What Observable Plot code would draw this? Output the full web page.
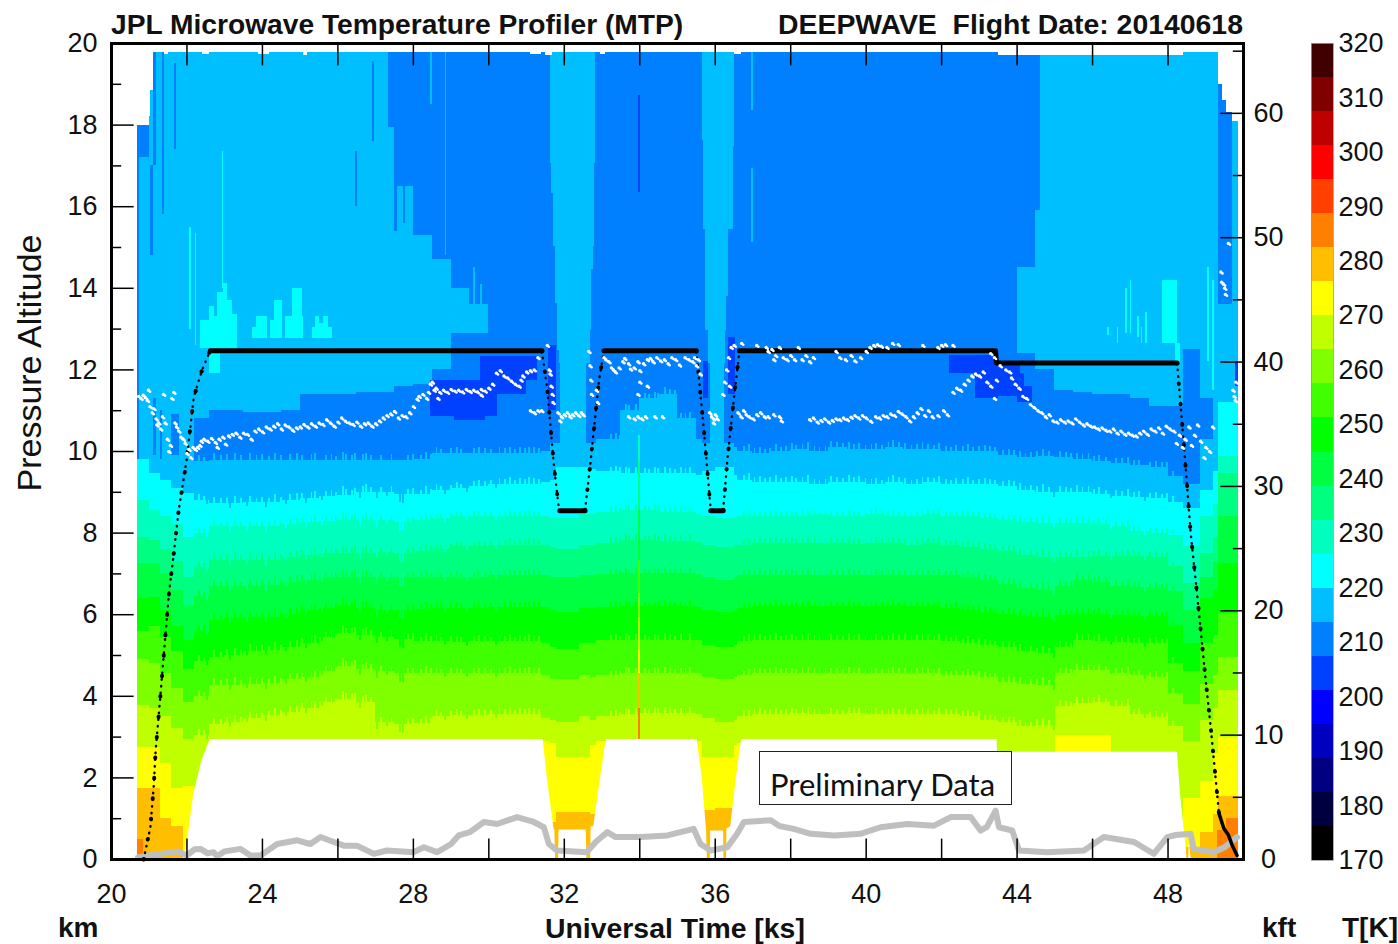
<!DOCTYPE html>
<html><head><meta charset="utf-8">
<script src="https://cdn.jsdelivr.net/npm/d3@7"></script>
<script src="https://cdn.jsdelivr.net/npm/@observablehq/plot@0.6"></script>
<style>
html,body{margin:0;padding:0;background:#fff;overflow:hidden}
#page{position:relative;width:1398px;height:944px;overflow:hidden;font-family:"Liberation Sans",Arial,sans-serif;color:#111}
#page svg{position:absolute;top:0;background:transparent}
.t{position:absolute;white-space:pre;line-height:1}
.b{font-weight:bold}
</style></head><body><div id="page"></div>
<script>
// colour bar: band limits (K) and band colours
const bandLimits=[176.25,182.5,188.75,195,201.25,207.5,213.75,220,226.25,232.5,238.75,245,251.25,257.5,263.75,270,276.25,282.5,288.75,295,301.25,307.5,313.75];
const bandColors=["#000000","#000040","#000080","#0000bf","#0000ff","#0040ff","#0080ff","#00bfff","#00ffff","#00ffbf","#00ff80","#00ff40","#00ff00","#40ff00","#80ff00","#bfff00","#ffff00","#ffbf00","#ff8000","#ff4000","#ff0000","#bf0000","#800000","#400000"];
const barBands=[170,176.25,182.5,188.75,195,201.25,207.5,213.75,220,226.25,232.5,238.75,245,251.25,257.5,263.75,270,276.25,282.5,288.75,295,301.25,307.5,313.75,320];
const barTicks=[170,180,190,200,210,220,230,240,250,260,270,280,290,300,310,320];
const kmTicks=[0,2,4,6,8,10,12,14,16,18,20];
const kmMinor=[1,3,5,7,9,11,13,15,17,19];
const ksTicks=[20,24,28,32,36,40,44,48];
const ksMarks=[22,24,26,28,30,32,34,36,38,40,42,44,46,48];
const kftTicks=[0,10,20,30,40,50,60];
const kftMinor=[5,15,25,35,45,55,65];

// time column edges (ks)
const tEdges=[20.7,21,21.3,21.6,21.9,22.2,22.6,23,23.5,24,
24.5,25,25.5,26,26.5,27,27.5,28,28.5,29,
29.5,30,30.5,31,31.4,31.63,31.8,32.4,32.7,32.85,
33.5,34,34.5,35,35.5,35.65,36,36.5,36.6,37,
37.5,38,38.5,39,39.5,40,40.5,41,41.5,42,
42.5,43,43.5,44,44.5,45,45.5,46,46.5,47,
47.5,48,48.42,48.86,49.2,49.35,49.7,49.87];
// top altitude (km) of each temperature layer in each column
const top279=[1.75,1.75,1,.8,0,0,0,0,0,0, 0,0,0,0,0,0,0,0,0,0, 0,0,0,0,0,.9,1.15,1.15,1.1,.8, 0,0,0,0,0,1.2,1.25,0,0,0, 0,0,0,0,0,0,0,0,0,0, 0,0,0,0,0,0,0,0,0,0, 0,0,.3,.65,1.1,1.55,1.55];
const top273=[2.75,2.75,2.35,1.75,1.8,0,0,0,0,0, 0,0,0,0,0,0,0,0,0,0, 0,0,0,0,2.9,2.85,2.5,2.5,2.8,2.9, 0,0,0,0,2.9,2.5,2.5,2.8,2.85,0, 0,0,0,0,0,0,0,0,0,0, 0,0,0,0,0,3.04,3.04,3.04,0,0, 0,0,1.5,1.9,2.6,3,3];
const top267=[3.78,3.7,3.5,3.2,2.95,3.05,3.3,3.35,3.45,3.53, 3.6,3.7,3.85,3.92,3.85,3.35,3.32,3.33,3.5,3.53, 3.53,3.55,3.55,3.55,3.45,3.4,3.35,3.5,3.4,3.5, 3.55,3.58,3.57,3.57,3.55,3.45,3.35,3.4,3.5,3.55, 3.55,3.57,3.55,3.55,3.57,3.55,3.55,3.55,3.55,3.55, 3.5,3.4,3.35,3.25,3.28,3.75,3.82,3.85,3.75,3.55, 3.49,3.25,2.9,3.4,3.7,4.14,4.14];
const top261=[4.9,4.8,4.55,4.2,3.85,4,4.27,4.27,4.3,4.31, 4.4,4.45,4.6,4.72,4.65,4.6,4.55,4.55,4.55,4.55, 4.55,4.55,4.55,4.55,4.5,4.4,4.4,4.5,4.45,4.5, 4.55,4.55,4.55,4.55,4.55,4.45,4.4,4.45,4.5,4.55, 4.55,4.55,4.55,4.55,4.55,4.55,4.55,4.55,4.55,4.5, 4.5,4.45,4.35,4.3,4.27,4.55,4.63,4.63,4.55,4.5, 4.47,4.06,3.8,4.3,4.5,4.96,4.96];
const top254=[5.6,5.7,5.45,5.1,4.65,4.85,4.96,5,5.1,5.13, 5.2,5.3,5.45,5.53,5.5,5.45,5.4,5.35,5.35,5.33, 5.35,5.35,5.35,5.35,5.3,5.2,5.15,5.3,5.3,5.37, 5.37,5.37,5.37,5.37,5.37,5.25,5.2,5.25,5.35,5.37, 5.37,5.37,5.37,5.37,5.37,5.37,5.37,5.37,5.37,5.35, 5.3,5.25,5.2,5.1,5.04,5.2,5.37,5.35,5.33,5.3, 5.29,4.8,4.6,5.3,5.5,6.03,6.03];
const top248=[6.4,6.43,6.1,5.7,5.37,5.6,5.86,5.9,5.92,5.94, 6,6.1,6.15,6.19,6.15,6.1,6.1,6.12,6.15,6.15, 6.15,6.17,6.17,6.17,6.17,6.1,6.05,6.15,6.15,6.18, 6.19,6.19,6.19,6.19,6.18,6.1,6.05,6.1,6.15,6.19, 6.19,6.19,6.19,6.19,6.19,6.19,6.19,6.19,6.19,6.15, 6.1,6.05,6,5.95,5.94,5.98,6,6,5.97,5.95, 5.95,5.74,5.3,6.4,6.6,7.25,7.25];
const top242=[7.25,7.25,7,6.6,6.19,6.45,6.68,6.68,6.7,6.72, 6.8,6.85,6.9,6.92,6.9,6.9,6.9,6.9,6.92,6.92, 6.92,6.95,6.95,6.95,6.95,6.9,6.9,6.95,6.95,6.98, 7,7,7,7,6.98,6.9,6.85,6.9,6.95,6.96, 6.96,6.96,6.95,6.96,6.95,6.96,6.95,6.95,6.96,6.95, 6.9,6.85,6.75,6.65,6.6,6.7,6.84,6.8,6.7,6.66, 6.64,6.56,6.1,6.9,7.3,8.4,8.4];
const top236=[7.9,7.82,7.6,7.3,6.92,7.15,7.33,7.33,7.33,7.33, 7.4,7.45,7.5,7.5,7.5,7.53,7.5,7.55,7.6,7.66, 7.66,7.7,7.7,7.7,7.7,7.65,7.6,7.7,7.7,7.75, 7.82,7.82,7.8,7.8,7.78,7.7,7.65,7.7,7.7,7.74, 7.74,7.74,7.75,7.75,7.72,7.74,7.74,7.7,7.74,7.7, 7.65,7.6,7.55,7.45,7.41,7.41,7.41,7.42,7.42,7.42, 7.41,7.17,6.76,7.5,7.9,9.46,9.46];
const top229=[8.8,8.56,8.4,8.2,7.9,8,8.15,8.15,8.15,8.15, 8.2,8.25,8.28,8.3,8.3,8.3,8.25,8.3,8.35,8.4, 8.4,8.4,8.4,8.4,8.4,8.35,8.35,8.45,8.45,8.5, 8.56,8.56,8.5,8.5,8.45,8.4,8.35,8.35,8.4,8.4, 8.4,8.4,8.45,8.4,8.4,8.45,8.4,8.4,8.45,8.4, 8.4,8.35,8.3,8.25,8.23,8.23,8.23,8.2,8.15,8.05, 8,7.95,7.66,8.4,8.7,9.87,9.87];
const top223=[9.8,9.46,9.3,9.1,8.97,8.8,8.72,8.72,8.74,8.76, 8.8,8.85,8.9,8.93,9,9,8.95,8.95,9.05,9.1, 9.15,9.2,9.2,9.2,9.25,9.3,9.6,9.6,9.55,9.5, 9.46,9.46,9.46,9.46,9.4,9.5,9.6,9.4,9.3,9.25, 9.25,9.25,9.2,9.25,9.25,9.2,9.25,9.2,9.25,9.2, 9.2,9.2,9.15,9.05,9,9,9,8.95,8.9,8.88, 8.85,8.76,8.6,9.05,9.5,11.2,11.2];
const top217=[10.5,10.5,10.2,10,9.9,9.75,9.78,9.78,9.78,9.78, 9.78,9.78,9.78,9.78,9.78,9.78,9.78,9.8,9.95,9.95, 9.95,9.95,9.95,9.95,10,10.2,10.2,10.2,10.2,10.3, 11,11.3,11.4,10.8,10.3,10.2,10.2,10.1,10,9.95, 10,10.05,10,10.1,10.05,10.05,10.1,10.05,10.05,10, 10,10,9.9,9.85,9.87,9.85,9.8,9.75,9.7,9.65, 9.62,9.38,9.2,10.3,11.3,13.6,99];
const top211=[10.5,10.5,10.2,10,9.9,10.8,11,11,10.95,10.95, 11,11.4,11.4,11.4,11.45,11.45,11.6,11.65,12,12.9, 12.9,12.9,12.9,12.9,10,10.2,10.2,10.2,10.2,10.6, 11,11.3,11.4,10.8,10.3,10.2,10.2,10.1,10,9.95, 10,10.05,10,10.1,10.05,10.05,10.1,10.05,10.05,10, 10,10,9.9,12.4,12,11.5,11.45,11.4,11.4,11.3, 11.1,11.1,12.5,11.3,11.3,13.6,99];
const upper217=[99,99,99,99,99,99,99,99,99,99, 99,99,99,99,99,99,16.5,15.3,14.7,14, 13.6,12.9,12.9,12.9,10,99,99,99,99,10.6, 11,11.3,11.4,10.8,10.3,99,99,10.1,10,9.95, 10,10.05,10,10.1,10.05,10.05,10.1,10.05,10.05,10, 10,10,9.9,14.5,99,99,99,99,99,99, 99,99,99,99,99,13.6,99];
const dataTop=[18,19.78,19.78,19.78,19.78,19.78,19.78,19.78,19.78,19.78, 19.78,19.78,19.78,19.78,19.78,19.78,19.78,19.78,19.78,19.78, 19.78,19.78,19.78,19.78,19.78,19.78,19.78,19.78,19.78,19.78, 19.78,19.78,19.78,19.78,19.78,19.78,19.78,19.78,19.78,19.78, 19.78,19.78,19.78,19.78,19.78,19.78,19.78,19.78,19.78,19.78, 19.78,19.78,19.7,19.7,19.7,19.7,19.7,19.7,19.7,19.7, 19.7,19.7,19.78,19.78,19.78,19.78,18.1];
const layerT=[279,273,267,261,254,248,242,236,229,223,217,211,217];
const layerTop=[top279,top273,top267,top261,top254,top248,top242,top236,top229,top223,top217,top211,upper217];

// narrow profiles that sit a little higher or lower than their neighbours [t, km]
const streaks=[[22.31,.14],[22.43,.1],[22.52,-.1],[22.71,.16],[22.88,.12],[23.04,.14],[23.12,-.12],[23.26,.18],[23.41,.12],[23.58,-.1],[23.66,.16],[23.83,.12],[23.97,.14],[24.08,-.14],[24.16,.1],[24.33,.18],[24.47,.12],[24.62,-.1],[24.71,.14],[24.9,.16],[25.03,.12],[25.14,-.12],[25.29,.14],[25.38,.18],[25.56,-.1],[25.67,.12],[25.82,.14],[25.93,.1],[26.12,.2],[26.21,.14],[26.36,.12],[26.44,.16],[26.58,-.14],[26.66,.14],[26.74,.18],[26.87,.12],[27.02,-.16],[27.13,.12],[27.28,-.1],[27.41,.14],[27.63,-.2],[27.71,-.22],[27.84,.12],[27.99,.14],[28.18,.1],[28.33,.18],[28.46,.12],[28.6,.14],[28.71,.1],[28.83,-.1],[28.98,.12],[29.14,.14],[29.26,.1],[29.42,-.1],[29.6,.12],[29.72,.14],[29.88,.12],[30.04,.1],[30.18,-.1],[30.27,.14],[30.41,.12],[30.56,.16],[30.68,.1],[30.81,.14],[30.94,.12],[31.06,.16],[31.18,.14],[31.31,.12],
[33.22,.12],[33.35,.14],[33.47,.1],[33.62,.16],[33.71,.12],[33.88,.14],[34.12,.12],[34.24,.1],[34.39,.14],[34.48,.12],[34.66,.16],[34.79,.12],[34.92,.1],[35.08,.14],[35.2,.12],[35.33,.16],
[36.75,.12],[36.88,.16],[37.03,.12],[37.18,.14],[37.31,.1],[37.44,.12],[37.6,.16],[37.73,.1],[37.86,.12],[38.02,.14],[38.14,.1],[38.3,.12],[38.44,.16],[38.62,.12],[38.75,.1],[38.91,.12],[39.06,.14],[39.22,.12],[39.37,.1],[39.53,.16],[39.66,.12],[39.81,.14],[39.97,.1],[40.13,.12],[40.26,.14],[40.41,.1],[40.58,.12],[40.71,.16],[40.87,.12],[41.02,.14],[41.19,.1],[41.33,.12],[41.48,.16],[41.62,.12],[41.79,.1],[41.93,.14],[42.11,.12],[42.24,.1],[42.38,.14],[42.55,.12],[42.68,.16],[42.83,.1],[42.99,.12],[43.14,.14],[43.28,.12],[43.41,.1],
[43.62,.12],[43.77,.14],[43.91,.12],[44.07,.16],[44.21,.1],[44.36,.12],[44.52,.14],[44.68,.18],[44.83,.12],[44.97,-.12],[45.12,.14],[45.28,.12],[45.41,.1],[45.58,.16],[45.72,.12],[45.88,.14],[46.03,.12],[46.17,.16],[46.34,.1],[46.48,-.1],[46.62,.14],[46.76,.12],[46.93,.16],[47.08,.12],[47.22,.14],[47.37,-.1],[47.51,.12],[47.66,.14],[47.82,.1],[47.96,.12],[48.11,.14]];

// local features [t0,t1,alt0,alt1,T]
const patches=[
// column flanks around the two descents
[31.63,31.66,16.32,17.06,211],[31.63,31.71,15.02,16.32,211],[31.63,31.77,13.63,15.02,211],[31.63,31.81,12.48,13.63,211],[31.63,31.86,12.15,12.48,211],[31.63,31.9,10.2,12.15,211],
[32.83,32.85,17.06,19.78,211],[32.8,32.85,15.02,17.06,211],[32.77,32.85,14.45,15.02,211],[32.71,32.85,12.97,14.45,211],[32.7,32.85,12.15,12.97,211],[32.6,32.85,10.2,12.15,211],
[35.65,35.7,15.43,17.63,211],[35.65,35.74,12.97,15.43,211],[35.65,35.83,12.15,12.97,211],[35.65,35.87,10.2,12.15,211],
[36.48,36.5,15.43,17.47,211],[36.36,36.5,13.79,15.43,211],[36.3,36.5,12.97,13.79,211],[36.27,36.5,12.15,12.97,211],[36.25,36.5,10.2,12.15,211],
// cold pockets
[28.46,30.23,10.85,11.75,204],[29.08,29.9,10.75,10.85,204],[29.78,31.28,11.75,12.32,204],[30.23,31,11.4,11.75,204],
[31.58,31.8,11,12.6,204],[35.7,35.83,11.3,12.2,204],[36.36,36.54,11.4,12.8,204],
[42.2,42.9,11.9,12.35,204],[42.9,43.5,11.3,12.35,204],[43.3,44.1,11.35,12.1,204],[44,44.2,11.2,11.9,204],[44.2,44.4,11.2,11.6,204],[49.8,49.87,11.6,12.2,204],
// warm lobes above flight level
[22.36,22.6,12.52,13.2,223],[22.6,22.72,12.52,13.55,223],[22.72,22.82,12.52,13.3,223],[22.82,22.98,12.52,13.9,223],[22.98,23.08,12.52,14.12,223],[23.08,23.2,12.52,13.7,223],[23.2,23.33,12.52,13.35,223],[23.73,23.85,12.77,13.05,223],[23.85,24.13,12.77,13.3,223],[24.21,24.33,12.77,13.2,223],[24.33,24.52,12.77,13.71,223],[24.61,24.79,12.77,13.3,223],[24.79,25.05,12.77,14,223],[25.05,25.1,12.77,13.3,223],[25.32,25.41,12.77,13.05,223],[25.41,25.52,12.77,13.3,223],[25.52,25.62,12.77,13.14,223],[25.62,25.76,12.77,13.3,223],[25.76,25.85,12.77,13.05,223],
[47.85,48.25,12.65,14.2,223],[48.2,48.33,12.15,12.65,223],[22.6,22.9,11.9,12.45,223],
// thin streaks
[22.08,22.12,13,15.5,223],[22.22,22.25,12.6,15.35,223],[22.94,22.98,14,17.35,223],[46.39,46.44,12.85,13.05,223],[46.65,46.7,12.65,13.05,223],[46.87,46.92,12.9,14,223],[47,47.04,12.9,14.2,223],[47.2,47.24,12.8,13.3,223],[47.3,47.33,12.65,13.05,223],[47.4,47.45,12.65,13.4,223],[49.04,49.09,12.2,14.5,223],[49.18,49.22,11.5,14.2,223],
[20.7,21,17.2,18,211],[20.7,20.73,9.8,17.9,211],[21.1,21.2,17,19.78,211],[21.03,21.12,14.8,17,211],[21.35,21.4,15.8,19.78,211],[21.66,21.72,17.4,19.5,211],[26.47,26.52,16,17.35,211],[26.93,26.98,17.6,19.55,211],[27.35,27.5,17.95,19.78,211],[27.49,27.58,15.4,16.5,211],[27.74,27.8,15.6,16.5,211],
[21.1,21.2,9.9,11.3,211],[21.3,21.35,9.8,11,211],[21.6,21.8,9.9,10.9,211],
[28.45,28.5,18.5,19.78,217],[28.84,28.88,14.8,19.78,217],[29.6,29.65,13.3,14.5,217],[29.78,29.82,13.3,14.1,217],
[36.97,37.01,18.37,19.78,217],[36.97,37.01,15.12,16.93,217],[33.96,34.02,16.36,18.73,204],
[44.5,44.62,15.9,19.7,211],
// warm spike at 34 ks
[33.97,34.03,2.94,3.7,286],[33.97,34.03,3.7,4.55,279],[33.97,34.03,4.55,5.13,273],[33.97,34.03,5.13,5.94,267],[33.97,34.03,5.94,6.51,261],[33.97,34.03,6.51,7.33,254],[33.97,34.03,7.33,8.56,242],[33.97,34.03,8.56,9.78,236],[33.97,34.03,9.78,10.4,229],
// hottest surface air
[20.7,20.85,0,.5,286],[49.3,49.87,0,.7,286],[49.55,49.87,.7,1,286]
];
// blank cells at the top of the field [t0,t1,alt0,alt1]
const gaps=[[21,21.03,18.2,19.9],[21.03,21.1,18.85,19.9],[49.35,49.45,19,19.9],[49.45,49.56,18.6,19.9],[49.56,49.7,18.3,19.9],[21.4,21.5,19.72,19.9],[22.4,22.6,19.72,19.9],[23.9,24.2,19.73,19.9],[25.1,25.2,19.7,19.9],[31.1,31.4,19.72,19.9],[31.5,31.7,19.7,19.9],[32.95,33.1,19.72,19.9],[36.5,36.7,19.72,19.9]];
// lower limit of retrieved data
const floorT=[21.9,22.02,22.18,22.4,22.62,31.44,31.55,31.72,31.75,31.77,31.85,31.86,32.58,32.6,32.7,32.71,32.78,32.96,33.11,35.52,35.655,35.77,35.79,35.87,35.88,36.22,36.23,36.3,36.31,36.41,36.56,36.7,43.47,43.48,48.25,48.33,48.42,48.49,48.5,48.55,48.56,48.62];
const floorA=[0,.5,1.6,2.43,2.94,2.94,2,.8,.7,0,0,.72,.72,0,0,.8,.8,2,2.94,2.94,2,.72,0,0,.7,.7,0,0,.75,.8,2,2.94,2.94,2.63,2.63,1.6,.8,.2,0,0,.4,0];

// aircraft pressure altitude
const climbLegs=[
[[20.85,0],[21.03,.79],[21.12,1.81],[21.17,2.67],[21.3,4.06],[21.39,5.07],[21.52,6.5],[21.65,7.5],[21.78,8.56],[21.92,9.37],[21.99,9.78],[22.18,11.33],[22.4,12],[22.62,12.48]],
[[31.41,12.46],[31.55,11.5],[31.72,9.7],[31.86,8.56]],
[[32.55,8.56],[32.7,9.78],[32.92,11.75],[33.05,12.46]],
[[35.5,12.46],[35.7,10.5],[35.79,9.54],[35.88,8.56]],
[[36.21,8.56],[36.32,9.78],[36.45,10.93],[36.64,12.46]],
[[48.24,12.17],[48.33,11.18],[48.46,9.7],[48.6,8],[48.77,6.5],[48.99,4.46],[49.13,3.25],[49.26,2],[49.35,1.13]]];
const levelLegs=[
[[22.62,12.47],[31.41,12.47]],[[31.88,8.55],[32.55,8.55]],[[33.05,12.47],[35.5,12.47]],[[35.88,8.55],[36.21,8.55]],[[36.64,12.47],[43.43,12.47],[43.45,12.17],[48.24,12.17]]];
const landingLeg=[[49.35,1.13],[49.48,.76],[49.6,.6],[49.7,.35],[49.83,.1]];
// ground-level trace in grey
const greyT=[20.7,21,21.4,21.74,22,22.2,22.36,22.55,22.7,22.8,23,23.42,23.68,23.95,24.39,24.92,25.27,25.54,25.89,26.16,26.5,26.95,27.3,28,28.28,28.63,29,29.2,29.5,29.87,30.22,30.75,31.19,31.46,31.59,31.81,32.6,32.83,33.14,33.36,34.02,34.73,35.43,35.61,35.88,36.32,36.58,36.76,37.47,37.7,38.08,38.53,39.15,39.85,40.38,41.09,41.8,42.24,42.77,43.03,43.2,43.43,43.52,43.87,44.05,44.8,45.77,46.3,47.1,47.62,47.98,48.2,48.6,48.68,49.21,49.5,49.83];
const greyA=[.05,.1,.15,.2,.1,.25,.26,.15,.18,.08,.2,.26,.1,.1,.38,.47,.38,.55,.43,.34,.34,.14,.22,.18,.3,.18,.38,.59,.67,.92,.87,1.04,.92,.79,.38,.22,.18,.43,.67,.55,.55,.59,.75,.38,.22,.3,.63,.92,.96,.82,.75,.63,.59,.63,.79,.87,.83,1.04,1.04,.71,.8,1.2,.79,.71,.22,.18,.22,.55,.43,.14,.55,.6,.63,.26,.18,.3,.55];
// cold-point altitude (white dots)
const coldPoint=[[20.72,11.35],[20.78,11.3],[20.84,11.38],[20.9,11.32],[20.95,11.25],[20.98,11.5],[21.02,11.1],[21.08,10.95],[21.12,11.05],[21.18,10.8],[21.2,10.65],[21.25,10.7],[21.3,10.55],[21.35,10.85],[21.38,11.4],[21.42,10.7],[21.48,10.3],[21.52,10],[21.56,10.15],[21.6,11.3],[21.65,11.45],[21.68,10.7],[21.72,10.6],[21.78,10.5],[21.84,10.35],[21.9,10.3],[21.95,10.2],[22,9.95],[22.05,10.05],[22.1,9.85],[22.16,10.1],[22.22,10.05],[22.28,10.1],[22.34,10.15],[22.38,10.25],
[22.45,10.3],[22.55,10.25],[22.65,10.32],[22.75,10.22],[22.8,10.1],[22.85,10.3],[22.95,10.35],[23.02,10.18],[23.1,10.38],[23.2,10.42],[23.3,10.45],[23.4,10.35],[23.5,10.45],[23.6,10.42],[23.7,10.3],[23.8,10.5],[23.9,10.55],[24,10.48],[24.1,10.6],[24.2,10.55],[24.3,10.62],[24.4,10.68],[24.5,10.55],[24.6,10.65],[24.7,10.6],[24.8,10.52],[24.9,10.58],[25,10.6],[25.1,10.66],[25.2,10.6],[25.3,10.68],[25.4,10.62],[25.5,10.7],[25.6,10.66],[25.7,10.78],[25.8,10.7],[25.9,10.62],[26,10.72],[26.1,10.82],[26.2,10.74],[26.3,10.7],[26.4,10.66],[26.5,10.72],[26.6,10.62],[26.7,10.68],[26.8,10.7],[26.9,10.62],[27,10.68],[27.1,10.75],[27.2,10.82],[27.3,10.88],[27.4,10.92],[27.5,10.98],[27.6,10.82],[27.7,10.88],[27.8,10.85],[27.9,10.95],[28,11.1],[28.1,11.28],[28.15,11.35],[28.25,11.4],[28.35,11.3],[28.4,11.45],[28.45,11.65],[28.5,11.7],[28.55,11.5],[28.6,11.55],[28.7,11.45],[28.65,11.3],[28.8,11.5],[28.9,11.45],[29,11.52],[29.1,11.48],[29.2,11.5],[29.3,11.46],[29.4,11.52],[29.5,11.47],[29.6,11.5],[29.7,11.46],[29.8,11.52],[29.9,11.48],[29.8,11.38],[30,11.55],[30.1,11.65],[30.2,11.92],[30.3,11.98],[30.4,11.85],[30.5,11.8],[30.6,11.72],[30.7,11.65],[30.8,11.6],[30.85,11.75],[30.9,11.85],[31,11.95],[31.1,11.98],[31.2,12],[31.1,11],[31.2,10.95],[31.3,11],[31.4,11],[31.3,12.3],
[31.55,12.6],[31.6,12],[31.62,11.9],[31.65,11.6],[31.68,11.4],[31.7,11.2],[31.83,10.95],[31.88,10.75],[31.92,10.85],[32,10.9],[32.08,10.95],[32.15,10.85],[32.22,10.9],[32.3,10.95],[32.38,10.88],[32.45,10.95],[32.5,10.9],[32.65,12.45],[32.68,12.1],[32.7,11.75],[32.72,11.4],[32.85,11.5],[32.88,11.2],
[33.05,12.3],[33.1,12.25],[33.18,12.2],[33.25,12.05],[33.3,12],[33.35,11.95],[33.45,12.05],[33.55,12.2],[33.6,12.28],[33.7,12.15],[33.75,12.02],[33.85,12.05],[33.95,12.2],[34,11.98],[34.1,12.15],[34.2,12.25],[34.28,12.28],[34.35,12.2],[34.45,12.3],[34.55,12.22],[34.65,12.25],[34.75,12.15],[34.85,12.3],[34.95,12.25],[35.05,12.12],[35.2,12.3],[35.3,12.25],[35.4,12.2],[35.45,12.3],
[33.7,10.85],[33.85,10.8],[33.95,10.85],[34.05,10.8],[34.15,10.85],[34.4,10.85],[34.6,10.85],[33.95,11.4],[34,11.7],[34.2,11.6],[35.5,12.1],[35.55,12.25],[35.6,11.9],
[35.85,10.95],[35.9,10.85],[35.95,10.8],[36,10.9],[36.05,10.8],[35.95,10.7],[36.2,11.4],[36.25,11.7],[36.3,12],[36.35,12.3],[36.38,11.6],[36.42,12.55],[36.5,12.6],
[36.7,12.65],[37.1,12.6],[37.35,12.55],[37.4,12.45],[37.5,12.5],[37.55,12.25],[37.6,12.35],[37.7,12.55],[37.8,12.3],[37.9,12.25],[38,12.35],[38.1,12.25],[38.2,12.55],[38.3,12.25],[38.4,12.35],[38.5,12.2],[38.6,12.3],[39.2,12.45],[39.3,12.3],[39.45,12.25],[39.6,12.35],[39.7,12.22],[39.85,12.3],[40,12.45],[40.1,12.55],[40.2,12.6],[40.3,12.62],[40.4,12.58],[40.55,12.55],[40.7,12.65],[40.85,12.62],[41.5,12.6],[41.9,12.55],[42,12.6],[42.1,12.62],[42.3,12.6],
[36.6,10.95],[36.68,10.85],[36.75,11],[36.82,10.9],[36.9,10.85],[37,10.8],[37.1,10.9],[37.2,10.95],[37.3,10.85],[37.4,10.85],[37.55,10.9],[37.7,10.85],[37.75,10.75],
[38.5,10.78],[38.6,10.82],[38.7,10.72],[38.8,10.76],[38.9,10.8],[39,10.72],[39.1,10.76],[39.2,10.8],[39.3,10.78],[39.4,10.82],[39.5,10.78],[39.6,10.84],[39.7,10.88],[39.8,10.82],[39.9,10.88],[40,10.82],[40.12,10.74],[40.25,10.85],[40.35,10.82],[40.45,10.88],[40.55,10.85],[40.65,10.92],[40.75,10.88],[40.85,10.98],[40.95,10.92],[41.05,10.85],[41.15,10.75],[41.25,10.85],[41.35,10.95],[41.45,11.05],[41.55,10.88],[41.65,11],[41.75,10.85],[41.9,10.88],[42.05,11],[42.15,10.9],
[42.3,11.45],[42.4,11.55],[42.5,11.5],[42.6,11.65],[42.7,11.75],[42.8,11.85],[42.9,11.9],[43,11.85],[43.1,11.95],[43.2,11.7],[43.3,11.6],[43.4,11.3],[43.45,11.75],[43.3,12.4],[43.4,12.3],[43.55,12.1],[43.7,12],[43.8,11.95],[43.85,11.8],[43.95,11.65],[44.05,11.55],[44.15,11.35],[44.25,11.3],[44.35,11.15],[44.45,11.08],[44.55,11],[44.65,10.95],[44.75,10.85],[44.85,10.9],[44.95,10.75],[45.05,10.72],[45.15,10.78],[45.25,10.72],[45.35,10.75],[45.45,10.7],[45.55,10.8],[45.65,10.72],[45.75,10.65],[45.85,10.68],[45.95,10.62],[46.05,10.6],[46.15,10.55],[46.25,10.58],[46.35,10.52],[46.45,10.5],[46.55,10.55],[46.65,10.45],[46.75,10.5],[46.85,10.42],[46.95,10.45],[47.05,10.4],[47.15,10.38],[47.25,10.45],[47.35,10.5],[47.45,10.42],[47.55,10.55],[47.65,10.5],[47.75,10.58],[47.85,10.45],[47.95,10.62],[48.05,10.55],[48.15,10.5],[48.22,10.2],[48.3,10.4],[48.38,10.1],[48.45,10.3],[48.55,10.6],[48.62,10.15],[48.7,10.4],[48.78,10.65],[48.86,10.25],[48.95,9.85],[49,10.1],[49.1,10],[49.18,10.6],
[49.4,14.4],[49.42,14.15],[49.47,14.1],[49.5,14],[49.52,13.85],[49.6,15.1],[49.72,11.5],[49.75,11.35],[49.78,11.25],[49.8,11.7]];

const cols=d3.range(tEdges.length-1).flatMap(i=>{
  const out=[];let prev=0;
  layerTop.forEach((a,k)=>{const top=Math.min(a[i],dataTop[i]);
    if(top>prev){out.push({t0:tEdges[i],t1:tEdges[i+1],a0:prev,a1:top,T:layerT[k]});prev=top;}});
  if(dataTop[i]>prev)out.push({t0:tEdges[i],t1:tEdges[i+1],a0:prev,a1:dataTop[i],T:211});
  return out;});
// each streak repeats its column's layers (bfff00 to 00bfff), moved by its own offset
const streakRows=streaks.flatMap(([t,d])=>{
  const i=d3.bisectRight(tEdges,t)-1;const out=[];
  let prev=Math.max(top273[i],2.5);
  for(let k=2;k<=10;k++){const top=layerTop[k][i]+d;
    out.push({t0:t,t1:t+.05,a0:prev,a1:top,T:layerT[k]});prev=top;}
  return out;});
const pRows=patches.map(p=>({t0:p[0],t1:p[1],a0:p[2],a1:p[3],T:p[4]}));
const colorScale={type:"threshold",domain:bandLimits,range:bandColors};
const font='"Liberation Sans",Arial,sans-serif';
const km=k=>k/3.28084;

const main=Plot.plot({
  width:1398,height:944,marginLeft:111,marginRight:155,marginTop:43,marginBottom:85,
  style:{fontFamily:font,background:"transparent",color:"#111"},
  x:{domain:[20,50]},y:{domain:[0,20]},color:colorScale,
  marks:[
    Plot.rect(cols,{x1:"t0",x2:"t1",y1:"a0",y2:"a1",fill:"T",shapeRendering:"crispEdges"}),
    Plot.rect(streakRows,{x1:"t0",x2:"t1",y1:"a0",y2:"a1",fill:"T",shapeRendering:"crispEdges"}),
    Plot.rect(pRows,{x1:"t0",x2:"t1",y1:"a0",y2:"a1",fill:"T",shapeRendering:"crispEdges"}),
    Plot.rect(gaps,{x1:d=>d[0],x2:d=>d[1],y1:d=>d[2],y2:d=>d[3],fill:"white",shapeRendering:"crispEdges"}),
    Plot.area(floorT.map((t,i)=>[t,floorA[i]]),{x1:d=>d[0],y1:()=>0,y2:d=>d[1],fill:"white"}),
    Plot.line(greyT.map((t,i)=>[t,greyA[i]]),{x:d=>d[0],y:d=>d[1],stroke:"#bfbfbf",strokeWidth:6,strokeLinejoin:"round"}),
    ...climbLegs.map(l=>Plot.line(l,{x:d=>d[0],y:d=>d[1],stroke:"black",strokeWidth:2.4,strokeDasharray:"0.5 6.2",strokeLinecap:"round"})),
    ...climbLegs.map(l=>Plot.line(l,{x:d=>d[0],y:d=>d[1],stroke:"black",strokeWidth:4,strokeDasharray:"0.5 20",strokeLinecap:"round"})),
    ...levelLegs.map(l=>Plot.line(l,{x:d=>d[0],y:d=>d[1],stroke:"black",strokeWidth:5})),
    Plot.line(landingLeg,{x:d=>d[0],y:d=>d[1],stroke:"black",strokeWidth:3.5}),
    Plot.dot(coldPoint,{x:d=>d[0],y:d=>d[1],r:1.7,fill:"white",stroke:"none"}),
    Plot.dot(coldPoint,{x:d=>d[0],y:d=>d[1],r:1.3,dx:1.6,dy:1.4,fill:"white",stroke:"none"}),
    Plot.ruleX(ksMarks,{x:d=>d,y1:0,y2:.5,stroke:"black",strokeWidth:1.5}),
    Plot.ruleX(ksMarks,{x:d=>d,y1:19.45,y2:20,stroke:"black",strokeWidth:1.5}),
    Plot.ruleY(kmTicks,{y:d=>d,x1:20,x2:20.6,stroke:"black",strokeWidth:1.5}),
    Plot.ruleY(kmMinor,{y:d=>d,x1:20,x2:20.27,stroke:"black",strokeWidth:1.5}),
    Plot.ruleY(kftTicks,{y:d=>km(d),x1:49.4,x2:50,stroke:"black",strokeWidth:1.5}),
    Plot.ruleY(kftMinor,{y:d=>km(d),x1:49.73,x2:50,stroke:"black",strokeWidth:1.5}),
    Plot.frame({stroke:"black",strokeWidth:3}),
    Plot.axisX({ticks:ksTicks,tickSize:0,tickPadding:24,fontSize:27,label:null,tickFormat:d=>String(d)}),
    Plot.axisY({ticks:kmTicks,tickSize:0,tickPadding:14,fontSize:27,label:null,tickFormat:d=>String(d)}),
    Plot.text(kftTicks,{x:()=>50,y:d=>km(d),text:d=>String(d),dx:25,fontSize:27,textAnchor:"middle"})
  ]});
main.style.left="0";
const page=document.getElementById("page");
page.append(main);

const bar=Plot.plot({
  width:88,height:944,marginLeft:1,marginRight:65,marginTop:43,marginBottom:84,
  style:{fontFamily:font,background:"transparent",color:"#111"},
  x:{domain:[0,1],axis:null},y:{domain:[170,320]},color:colorScale,
  marks:[
    Plot.rect(barBands.slice(0,-1).map((b,i)=>({b0:b,b1:barBands[i+1]})),{x1:()=>0,x2:()=>1,y1:"b0",y2:"b1",fill:d=>(d.b0+d.b1)/2,shapeRendering:"crispEdges"}),
    Plot.frame({stroke:"#999",strokeWidth:.8}),
    Plot.axisY({anchor:"right",ticks:barTicks,tickSize:0,tickPadding:5,fontSize:27,label:null,tickFormat:d=>String(d)})
  ]});
bar.style.left="1310px";
page.append(bar);

function label(text,left,top,size,bold,extra){
  const d=document.createElement("div");d.className="t"+(bold?" b":"");d.textContent=text;
  d.style.left=left+"px";d.style.top=top+"px";d.style.fontSize=size+"px";
  if(extra)Object.assign(d.style,extra);page.append(d);return d;}
label("JPL Microwave Temperature Profiler (MTP)",111,10,28.2,true);
label("DEEPWAVE  Flight Date: 20140618",778,10,28.4,true);
label("Universal Time [ks]",545,914,28.4,true);
label("km",58,914,28,true);
label("kft",1262,914,28,true);
label("T[K]",1342,914,28,true);
label("Pressure Altitude",29,363,34,false,{transform:"translate(-50%,-50%) rotate(-90deg)"});
label("Preliminary Data",759,751,31,false,{width:"251px",height:"52px",border:"1.5px solid #222",background:"#fff",fontFamily:"Lato,sans-serif",boxSizing:"content-box",lineHeight:"64px",textIndent:"10px"});
</script></body></html>
